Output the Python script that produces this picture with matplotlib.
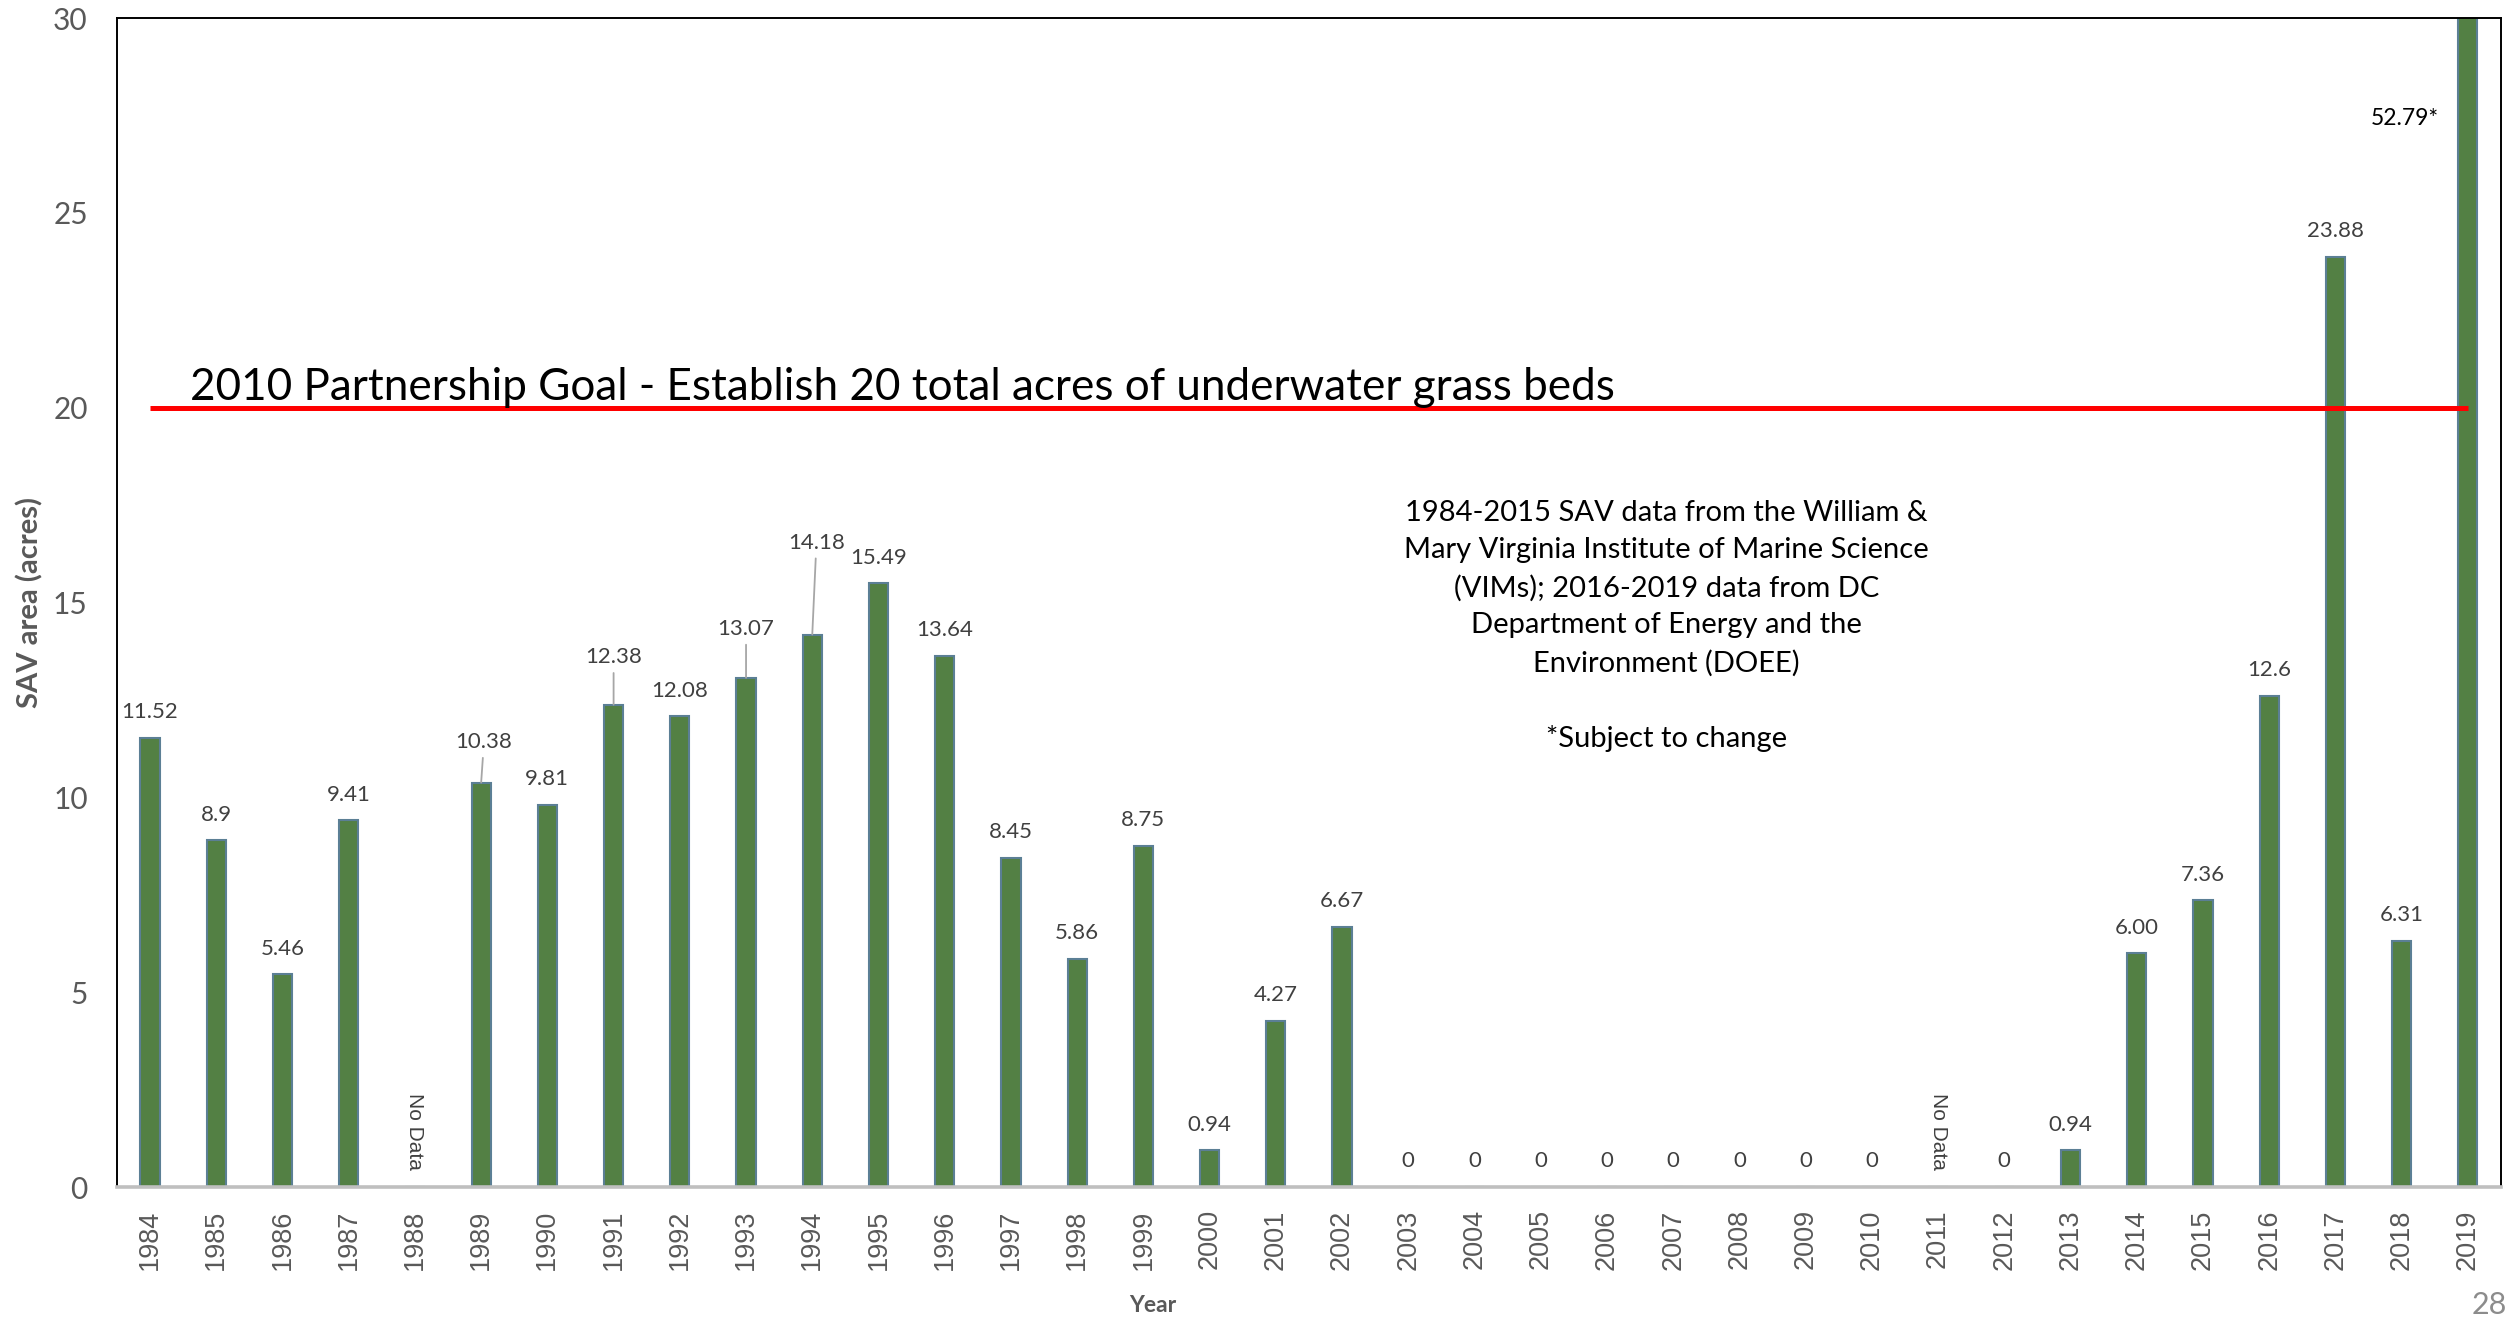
import matplotlib.pyplot as plt
import numpy as np

# SAV acreage by year (None = no survey data)
years = [str(y) for y in range(1984, 2020)]
acres = [11.52, 8.9, 5.46, 9.41, None, 10.38, 9.81, 12.38, 12.08, 13.07,
         14.18, 15.49, 13.64, 8.45, 5.86, 8.75, 0.94, 4.27, 6.67,
         0, 0, 0, 0, 0, 0, 0, 0, None, 0, 0.94,
         6.00, 7.36, 12.6, 23.88, 6.31, 52.79]
value_labels = ["11.52", "8.9", "5.46", "9.41", "No Data", "10.38", "9.81", "12.38", "12.08", "13.07",
                "14.18", "15.49", "13.64", "8.45", "5.86", "8.75", "0.94", "4.27", "6.67",
                "0", "0", "0", "0", "0", "0", "0", "0", "No Data", "0", "0.94",
                "6.00", "7.36", "12.6", "23.88", "6.31", "52.79*"]

goal = 20
goal_text = "2010 Partnership Goal - Establish 20 total acres of underwater grass beds"
note_text = ("1984-2015 SAV data from the William &\n"
             "Mary Virginia Institute of Marine Science\n"
             "(VIMs); 2016-2019 data from DC\n"
             "Department of Energy and the\n"
             "Environment (DOEE)\n"
             "\n"
             "*Subject to change")

CAL = "Lato"
ARI = "Liberation Sans"
GREY = "#595959"
DARK = "#404040"

# labels that sit higher with a leader line: (dx, dy) in points
leader = {"1989": (2, 29), "1991": (0, 34), "1993": (0, 35), "1994": (3, 66)}

fig = plt.figure(figsize=(25.09, 13.21), dpi=100)
ax = fig.add_axes([0.0466, 0.1014, 0.9502, 0.8849])

x = np.arange(len(years))
heights = [0 if v is None else v for v in acres]
ax.bar(x, heights, width=0.29, color="#538044", edgecolor="#5B7F95", linewidth=1.5, zorder=2)

ax.set_xlim(-0.5, len(years) - 0.5)
ax.set_ylim(0, 30)
ax.set_yticks(range(0, 31, 5))
ax.set_xticks(x)
ax.set_xticklabels(years, rotation=90, fontsize=19.5, color=GREY, family=ARI)
for t in ax.get_yticklabels():
    t.set_fontsize(21.5)
    t.set_color(GREY)
    t.set_family(CAL)
ax.tick_params(axis="x", length=0, pad=16)
ax.tick_params(axis="y", length=0, pad=21)

for side in ["left", "top", "right"]:
    ax.spines[side].set_color("black")
    ax.spines[side].set_linewidth(1.4)
ax.spines["bottom"].set_color("#BFBFBF")
ax.spines["bottom"].set_linewidth(2.6)

# data labels
for i, (v, lab) in enumerate(zip(acres, value_labels)):
    if v is None:
        ax.text(i, 1.43, lab, rotation=270, ha="center", va="center",
                fontsize=15, color=DARK, family=ARI)
        continue
    if v > 30:
        ax.text(i - 0.95, 27.43, lab, ha="center", va="center", fontsize=16.5,
                color="black", family=CAL)
        continue
    if years[i] in leader:
        dx, dy = leader[years[i]]
        ax.annotate(lab, xy=(i, v), xytext=(dx, dy), textcoords="offset points",
                    ha="center", va="center", fontsize=16, color=DARK, family=CAL,
                    arrowprops=dict(arrowstyle="-", color="#A6A6A6", lw=1.3,
                                    shrinkA=2, shrinkB=0))
    else:
        ax.annotate(lab, xy=(i, v), xytext=(0, 18.5), textcoords="offset points",
                    ha="center", va="center", fontsize=16, color=DARK, family=CAL)

# goal line
ax.hlines(goal, 0, len(years) - 1, color="red", linewidth=3.6, zorder=3)
ax.text(0.6, goal + 0.2, goal_text, ha="left", va="baseline", fontsize=31.7,
        color="black", family=CAL, zorder=4)

ax.text(22.9, 14.4, note_text, ha="center", va="center", multialignment="center",
        fontsize=21, color="black", family=CAL, linespacing=1.52)

fig.text(30 / 2509, 1 - 603 / 1321, "SAV area (acres)", rotation=90, ha="center", va="center",
         fontsize=21, fontweight="bold", color=GREY, family=CAL)
fig.text(1153 / 2509, 1 - 1305 / 1321, "Year", ha="center", va="center",
         fontsize=16.5, fontweight="bold", color=GREY, family=CAL)
fig.text(2507 / 2509, 1 - 1305 / 1321, "28", ha="right", va="center",
         fontsize=22, color="#8C8C8C", family=CAL)

plt.savefig("out.png", dpi=100)
